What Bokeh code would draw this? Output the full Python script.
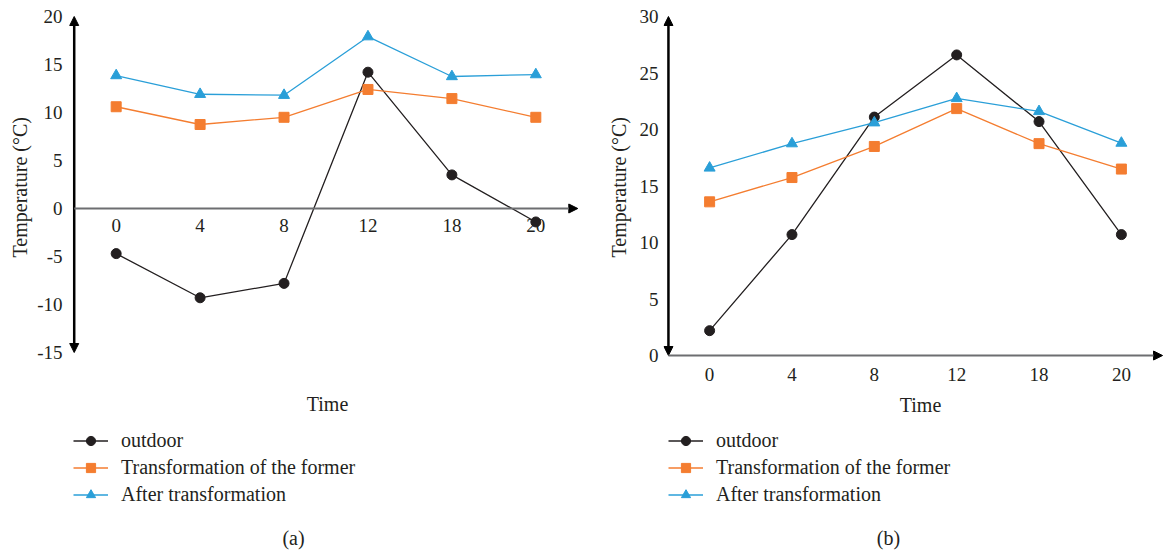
from bokeh.plotting import figure
from bokeh.models import (FactorRange, Range1d, Arrow, NormalHead, Legend, LegendItem,
                          Label, Title)
from bokeh.layouts import row
from bokeh.embed import file_html
from bokeh.resources import INLINE

times = ["0", "4", "8", "12", "18", "20"]
series_names = ["outdoor", "Transformation of the former", "After transformation"]

# panel (a)
a_yticks = [-15, -10, -5, 0, 5, 10, 15, 20]
a_outdoor = [-4.7, -9.3, -7.8, 14.2, 3.5, -1.4]
a_former = [10.6, 8.75, 9.5, 12.4, 11.45, 9.5]
a_after = [13.85, 11.9, 11.8, 17.9, 13.75, 13.95]

# panel (b)
b_yticks = [0, 5, 10, 15, 20, 25, 30]
b_outdoor = [2.2, 10.7, 21.1, 26.6, 20.7, 10.7]
b_former = [13.6, 15.75, 18.5, 21.85, 18.75, 16.5]
b_after = [16.6, 18.75, 20.6, 22.75, 21.6, 18.8]

FONT = "Liberation Serif"
TXT = "#231f20"
colors = ["#231f20", "#f47d30", "#2a9fd8"]
markers = ["circle", "square", "triangle"]
msizes = [10, 10, 11]


def make_panel(values, yticks, y_range, pad, frame_w, border_l, border_r,
               xlabel_standoff, title_standoff, tag, time_xy, tag_xy, legend_xy):
    p = figure(x_range=FactorRange(factors=times, range_padding=pad,
                                   range_padding_units="absolute"),
               y_range=Range1d(*y_range),
               frame_width=frame_w, frame_height=552,
               min_border_left=border_l, min_border_right=border_r,
               min_border_top=0, min_border_bottom=0,
               output_backend="svg", toolbar_location=None,
               background_fill_color="white", border_fill_color="white")
    p.outline_line_color = None
    p.grid.grid_line_color = None

    y0, y1 = yticks[0], yticks[-1]
    p.xaxis.fixed_location = 0
    for ax in (p.xaxis, p.yaxis):
        ax.axis_line_color = None
        ax.major_tick_line_color = None
        ax.minor_tick_line_color = None
        ax.major_tick_out = 0
        ax.major_tick_in = 0
        ax.major_label_text_font = FONT
        ax.major_label_text_font_size = "19px"
        ax.major_label_text_color = TXT
        ax.major_label_text_font_style = "normal"
    p.xaxis.major_label_standoff = xlabel_standoff
    p.yaxis.major_label_standoff = 5
    p.yaxis.ticker = yticks
    p.yaxis.major_label_overrides = {t: str(t) for t in yticks}

    p.add_layout(Title(text="Temperature (°C)", align="left", offset=295,
                       standoff=title_standoff, text_font=FONT, text_font_size="20px",
                       text_font_style="normal", text_color=TXT), "left")

    # axis lines with arrow heads
    p.add_layout(Arrow(x_start=0, y_start=y0, x_end=0, y_end=y1,
                       start=NormalHead(size=9, fill_color="#000000", line_color="#000000"),
                       end=NormalHead(size=9, fill_color="#000000", line_color="#000000"),
                       line_color="#000000", line_width=2.5))
    p.add_layout(Arrow(x_start=0, y_start=0, x_end=len(times), y_end=0,
                       end=NormalHead(size=9, fill_color="#000000", line_color="#000000"),
                       line_color="#6d6e71", line_width=2))

    items = []
    for name, vals, c, m, s in zip(series_names, values, colors, markers, msizes):
        l = p.line(times, vals, line_color=c, line_width=1.3)
        sc = p.scatter(times, vals, marker=m, size=s, fill_color=c, line_color=c)
        items.append(LegendItem(label=name, renderers=[l, sc]))

    leg = Legend(items=items, location=legend_xy, orientation="vertical",
                 label_text_font=FONT, label_text_font_size="20px", label_text_color=TXT,
                 glyph_width=35, glyph_height=23, label_height=20, label_standoff=13,
                 spacing=4, padding=0, margin=0, border_line_color=None,
                 background_fill_alpha=0)
    p.add_layout(leg)

    p.add_layout(Label(x=time_xy[0], y=time_xy[1], x_units="screen", y_units="screen",
                       text="Time", text_font=FONT, text_font_size="20px", text_color=TXT,
                       text_align="center", text_baseline="middle"))
    p.add_layout(Label(x=tag_xy[0], y=tag_xy[1], x_units="screen", y_units="screen",
                       text=tag, text_font=FONT, text_font_size="20px", text_color=TXT,
                       text_align="center", text_baseline="middle"))
    return p


# (a): 9.6 px per degree, 84 px per category
pa = make_panel([a_outdoor, a_former, a_after], a_yticks, (-35.833, 21.667), 0.08,
                517, 67, 10, 10, 8, "(a)", (260, 149), (226, 15), (6, 46))
# (b): 11.3 px per degree
pb = make_panel([b_outdoor, b_former, b_after], b_yticks, (-17.43, 31.416), 0.06,
                504, 69, 0, 12, 14, "(b)", (257, 148), (225, 15), (5, 46))

layout = row(pa, pb, spacing=0)
open("out.html", "w").write(file_html(layout, INLINE))
